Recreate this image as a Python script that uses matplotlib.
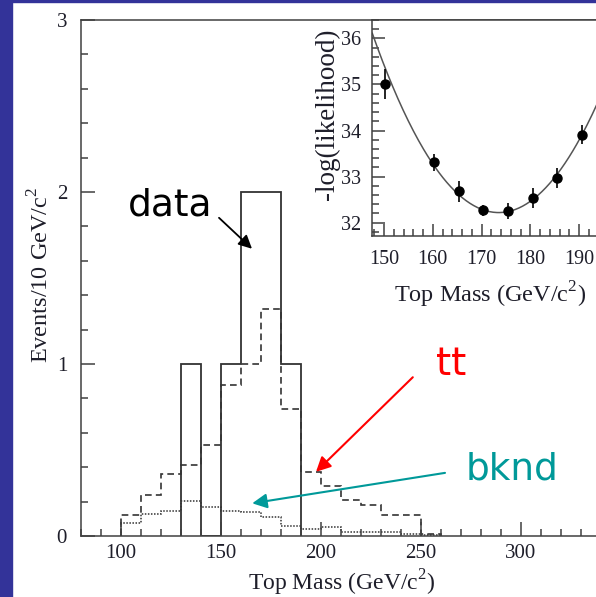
import numpy as np
import matplotlib.pyplot as plt
from matplotlib.patches import Rectangle

# histogram binning (GeV/c^2)
bin_edges = [100, 110, 120, 130, 140, 150, 160, 170, 180, 190, 200, 210, 220, 230, 240, 250, 260]
ttbar_events = [0.12, 0.24, 0.36, 0.41, 0.53, 0.88, 1.0, 1.32, 0.74, 0.37, 0.29, 0.21, 0.18, 0.12, 0.12, 0.01]
bknd_events = [0.073, 0.13, 0.145, 0.205, 0.17, 0.147, 0.139, 0.112, 0.058, 0.039, 0.054, 0.024, 0.023, 0.023, 0.012, 0.006]

data_edges = [130, 140, 150, 160, 170, 180, 190]
data_events = [1, 0, 1, 2, 2, 1]

# likelihood scan (inset)
scan_mass = [150.2, 160.3, 165.4, 170.2, 175.4, 180.5, 185.4, 190.5]
scan_nll = [35.01, 33.31, 32.68, 32.27, 32.25, 32.53, 32.97, 33.91]
scan_err = [0.33, 0.19, 0.22, 0.12, 0.18, 0.22, 0.22, 0.21]
fit_mass_min = 173.5
fit_nll_min = 32.22
fit_curvature = 0.0058

plt.rcParams['font.family'] = ['Liberation Serif']
plt.rcParams['mathtext.fontset'] = 'custom'
plt.rcParams['mathtext.rm'] = 'Liberation Serif'

spine_col = '#404040'
text_col = '#1e1e2a'
line_col = '#333333'

fig = plt.figure(figsize=(5.96, 5.97), dpi=100)

# blue slide border
fig.patches.append(Rectangle((0, 0), 12 / 596, 1, transform=fig.transFigure, color='#333399', zorder=0))
fig.patches.append(Rectangle((0, 1 - 1.5 / 597), 1, 1.5 / 597, transform=fig.transFigure, color='#333399', zorder=0))

ax = fig.add_axes([81 / 596, 61 / 597, 520 / 596, 516 / 597])
ax.set_xlim(80, 340)
ax.set_ylim(0, 3)

ax.stairs(data_events, data_edges, baseline=0, color=line_col, lw=1.3)
ax.stairs(ttbar_events, bin_edges, baseline=0, color=line_col, lw=1.2, linestyle=(0, (4, 2.5)))
ax.stairs(bknd_events, bin_edges, baseline=0, color=line_col, lw=1.1, linestyle=(0, (1, 1)))

ax.set_xticks(np.arange(100, 301, 50))
ax.set_xticks(np.arange(80, 341, 10), minor=True)
ax.set_yticks([0, 1, 2, 3])
ax.set_yticks(np.arange(0, 3.01, 0.2), minor=True)
ax.tick_params(which='both', direction='in', colors=spine_col, labelcolor=text_col, labelsize=15, width=1.1)
ax.tick_params(which='major', length=10)
ax.tick_params(which='minor', length=5)
ax.tick_params(axis='y', pad=10)
ax.tick_params(axis='x', pad=6)
for s in ax.spines.values():
    s.set_color(spine_col)
    s.set_linewidth(1.1)

ax.set_xlabel(r'Top Mass (GeV/c$^{\mathrm{2}}$)', fontsize=17, color=text_col)
ax.xaxis.set_label_coords((342 - 81) / 520, -(568 - 536) / 516)
ax.set_ylabel(r'Events/10 GeV/c$^{\mathrm{2}}$', fontsize=17.5, color=text_col)
ax.yaxis.set_label_coords(-(81 - 54) / 520, (536 - 275) / 516)

# annotations
ax.text(124.75, 1.92, 'data', fontsize=27, family='DejaVu Sans', ha='center', va='center', color='black')
ax.annotate('', xy=(165.5, 1.67), xytext=(149, 1.85),
            arrowprops=dict(arrowstyle='-|>', color='black', lw=1.3, mutation_scale=20, shrinkA=0, shrinkB=0))
ax.text(265, 1.0, 'tt', fontsize=28, family='DejaVu Sans', ha='center', va='center', color='#ff0000')
ax.annotate('', xy=(197.5, 0.373), xytext=(245.9, 0.923),
            arrowprops=dict(arrowstyle='-|>', color='#ff0000', lw=1.5, mutation_scale=22, shrinkA=0, shrinkB=0))
ax.text(295.3, 0.385, 'bknd', fontsize=27, family='DejaVu Sans', ha='center', va='center', color='#009999')
ax.annotate('', xy=(165.6, 0.19), xytext=(262, 0.367),
            arrowprops=dict(arrowstyle='-|>', color='#009999', lw=1.5, mutation_scale=22, shrinkA=0, shrinkB=0))

# inset: likelihood vs top mass
ins = fig.add_axes([372.3 / 596, (597 - 236.3) / 597, 255.7 / 596, 216.3 / 597])
ins.set_xlim(147.6, 200)
ins.set_ylim(31.705, 36.4)
mm = np.linspace(147.6, 200, 200)
ins.plot(mm, fit_nll_min + fit_curvature * (mm - fit_mass_min) ** 2, color='#555555', lw=1.1)
ins.errorbar(scan_mass, scan_nll, yerr=scan_err, fmt='o', color='black', ms=6.5, elinewidth=1.2, capsize=0)

ins.set_xticks(np.arange(150, 191, 10))
ins.set_xticks(np.arange(148, 201, 2), minor=True)
ins.set_yticks([32, 33, 34, 35, 36])
ins.set_yticks(np.arange(31.8, 36.41, 0.2), minor=True)
ins.tick_params(which='both', direction='in', colors=spine_col, labelcolor=text_col, labelsize=14.5, width=1.1)
ins.tick_params(which='major', length=9)
ins.tick_params(which='minor', length=5)
ins.tick_params(axis='y', pad=8)
ins.tick_params(axis='x', pad=10)
for s in ins.spines.values():
    s.set_color(spine_col)
    s.set_linewidth(1.1)
ins.set_xlabel(r'Top Mass (GeV/c$^{\mathrm{2}}$)', fontsize=17.5, color=text_col)
ins.xaxis.set_label_coords((490 - 372.3) / 255.7, -(280 - 236.3) / 216.3)
ins.set_ylabel('-log(likelihood)', fontsize=19.5, color=text_col)
ins.yaxis.set_label_coords(-(372.3 - 340) / 255.7, (236.3 - 114) / 216.3)

fig.savefig('out.png', dpi=100)
